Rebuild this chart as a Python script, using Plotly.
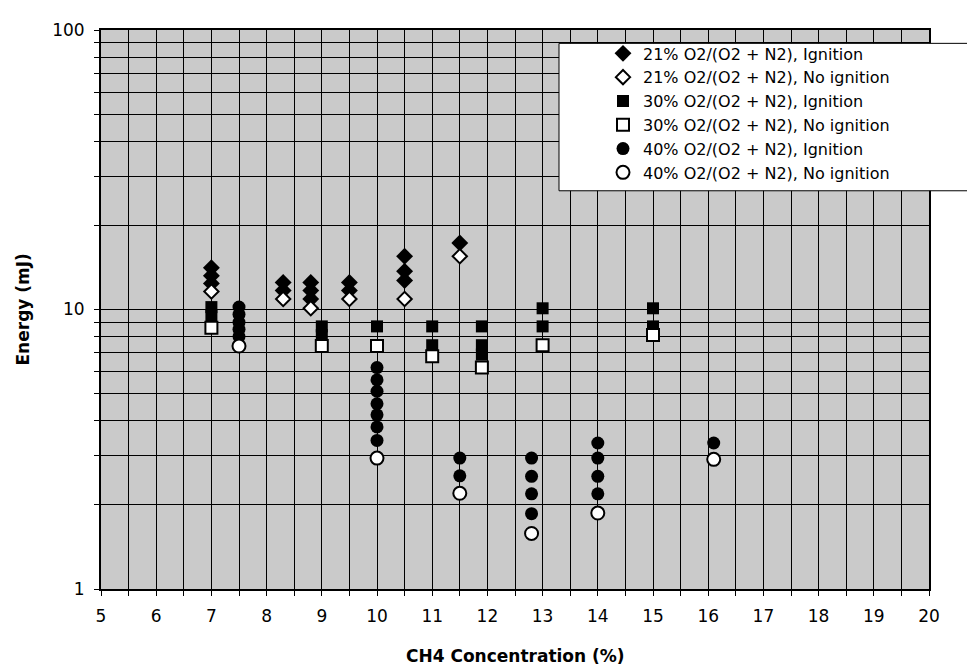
import plotly.graph_objects as go

# ---- data ----
o21_ign_x = [7, 7, 7, 8.3, 8.3, 8.8, 8.8, 8.8, 9.5, 9.5, 10.5, 10.5, 10.5, 11.5]
o21_ign_y = [14.1, 13.2, 12.4, 12.5, 11.7, 12.5, 11.7, 10.9, 12.5, 11.7, 15.5, 13.7, 12.7, 17.3]
o21_no_x = [7, 8.3, 8.8, 9.5, 10.5, 11.5]
o21_no_y = [11.6, 10.9, 10.1, 10.9, 10.9, 15.5]

o30_ign_x = [7, 7, 9, 9, 10, 11, 11, 11.9, 11.9, 11.9, 13, 13, 15, 15]
o30_ign_y = [10.2, 9.5, 8.7, 8.1, 8.7, 8.7, 7.45, 8.7, 7.45, 6.9, 10.1, 8.7, 10.1, 8.7]
o30_no_x = [7, 9, 10, 11, 11.9, 13, 15]
o30_no_y = [8.6, 7.4, 7.4, 6.8, 6.2, 7.45, 8.1]

o40_ign_x = [7.5, 7.5, 7.5, 7.5, 7.5,
             10, 10, 10, 10, 10, 10, 10,
             11.5, 11.5,
             12.8, 12.8, 12.8, 12.8,
             14, 14, 14, 14,
             16.1]
o40_ign_y = [10.2, 9.6, 9.0, 8.5, 8.0,
             6.2, 5.6, 5.1, 4.6, 4.2, 3.8, 3.4,
             2.94, 2.54,
             2.94, 2.53, 2.19, 1.86,
             3.33, 2.94, 2.53, 2.19,
             3.33]
o40_no_x = [7.5, 10, 11.5, 12.8, 14, 16.1]
o40_no_y = [7.4, 2.94, 2.2, 1.58, 1.87, 2.91]

series_names = [
    "21% O2/(O2 + N2), Ignition",
    "21% O2/(O2 + N2), No ignition",
    "30% O2/(O2 + N2), Ignition",
    "30% O2/(O2 + N2), No ignition",
    "40% O2/(O2 + N2), Ignition",
    "40% O2/(O2 + N2), No ignition",
]
x_ticks = list(range(5, 21))
y_ticks = [1, 10, 100]
y_minor = [2, 3, 4, 5, 6, 7, 8, 9, 20, 30, 40, 50, 60, 70, 80, 90]

FONT = "DejaVu Sans, Liberation Sans, Arial, sans-serif"

series = [
    (o21_ign_x, o21_ign_y, "diamond", "black", 13),
    (o21_no_x, o21_no_y, "diamond", "white", 11),
    (o30_ign_x, o30_ign_y, "square", "black", 12),
    (o30_no_x, o30_no_y, "square", "white", 12),
    (o40_ign_x, o40_ign_y, "circle", "black", 13),
    (o40_no_x, o40_no_y, "circle", "white", 13),
]

fig = go.Figure()
for (xs, ys, sym, fill, size), name in zip(series, series_names):
    fig.add_trace(go.Scatter(
        x=xs, y=ys, mode="markers", name=name,
        marker=dict(symbol=sym, size=size, color=fill,
                    line=dict(color="black", width=2 if fill == "white" else 0)),
    ))

# page has an 8px body margin: figure sized/positioned to compensate
OFF = 8
W, H = 975 - OFF, 671 - OFF
L, R, T, B = 101, 929, 24.5, 589.5          # plot area in page pixels
pw, ph = R - L, B - T

def px_x(p):
    return (p - L) / pw

def px_y(p):
    return (B - p) / ph

fig.update_layout(
    width=W, height=H,
    margin=dict(l=L - OFF, r=W - (R - OFF), t=T - OFF, b=H - (B - OFF)),
    paper_bgcolor="white",
    plot_bgcolor="#cacaca",
    font=dict(family=FONT, size=17, color="black"),
    showlegend=True,
    legend=dict(
        x=px_x(603), y=px_y(31), xanchor="left", yanchor="top",
        bgcolor="rgba(0,0,0,0)", borderwidth=0,
        font=dict(family=FONT, size=16, color="black"),
        itemsizing="trace",
        tracegroupgap=0,
    ),
    xaxis=dict(
        range=[5, 20], tickvals=x_ticks, ticktext=[str(v) for v in x_ticks],
        showgrid=True, gridcolor="black", gridwidth=1,
        ticks="outside", ticklen=5, tickcolor="black",
        ticklabelstandoff=6,
        minor=dict(dtick=0.5, tick0=5, showgrid=True, gridcolor="black", gridwidth=1,
                   ticks="outside", ticklen=5, tickcolor="black"),
        showline=True, linecolor="black", linewidth=2, mirror=True,
        zeroline=False, tickfont=dict(size=17),
    ),
    yaxis=dict(
        type="log", range=[0, 2], tickvals=y_ticks, ticktext=[str(v) for v in y_ticks],
        showgrid=True, gridcolor="black", gridwidth=1,
        ticks="outside", ticklen=5, tickcolor="black",
        ticklabelstandoff=6,
        minor=dict(tickvals=y_minor, showgrid=True, gridcolor="black", gridwidth=1,
                   ticks="outside", ticklen=5, tickcolor="black"),
        showline=True, linecolor="black", linewidth=2, mirror=True,
        zeroline=False, tickfont=dict(size=17),
    ),
    shapes=[dict(
        type="rect", xref="paper", yref="paper",
        x0=px_x(559), x1=px_x(990), y0=px_y(187), y1=px_y(38),
        fillcolor="white", line=dict(color="black", width=1), layer="above",
    )],
    annotations=[
        dict(text="<b>Energy (mJ)</b>", xref="paper", yref="paper",
             x=px_x(22), y=0.5, textangle=-90, showarrow=False,
             xanchor="center", yanchor="middle", font=dict(size=17)),
        dict(text="<b>CH4 Concentration (%)</b>", xref="paper", yref="paper",
             x=0.5, y=px_y(657), showarrow=False,
             xanchor="center", yanchor="middle", font=dict(size=17)),
    ],
)

fig.write_html("out.html")
